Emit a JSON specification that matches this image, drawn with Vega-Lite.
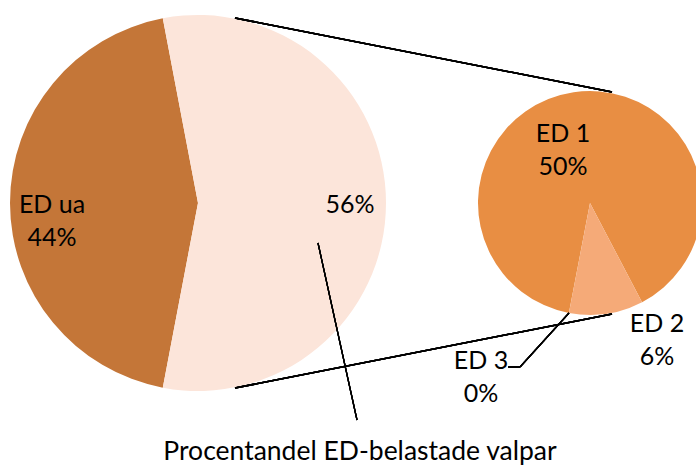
{
  "$schema": "https://vega.github.io/schema/vega-lite/v6.json",
  "width": 696,
  "height": 467,
  "padding": 0,
  "autosize": {"type": "none"},
  "background": "white",
  "config": {"view": {"stroke": null}, "text": {"font": "Lato", "fontSize": 25, "lineBreak": "\n", "lineHeight": 33, "color": "#000000"}},
  "data": {"values": [
    {"paj": "Vänster", "kategori": "ED ua", "andel": 44},
    {"paj": "Vänster", "kategori": "ED-belastade", "andel": 56},
    {"paj": "Höger", "kategori": "ED 1", "andel": 50},
    {"paj": "Höger", "kategori": "ED 2", "andel": 6},
    {"paj": "Höger", "kategori": "ED 3", "andel": 0}
  ]},
  "transform": [
    {"calculate": "datum.kategori === 'ED-belastade' ? datum.andel + '%' : datum.kategori + '\\n' + datum.andel + '%'", "as": "etikett"}
  ],
  "resolve": {"scale": {"theta": "independent"}},
  "layer": [
    {
      "transform": [{"filter": "datum.paj === 'Vänster'"}],
      "mark": {"type": "arc", "radius": 188},
      "encoding": {
        "x": {"datum": 198, "type": "quantitative", "scale": {"domain": [0, 696], "nice": false, "zero": false}, "axis": null},
        "y": {"datum": 203, "type": "quantitative", "scale": {"domain": [0, 467], "nice": false, "zero": false, "reverse": true}, "axis": null},
        "theta": {"field": "andel", "type": "quantitative", "stack": true, "scale": {"range": [-0.1885, 6.0947]}},
        "order": {"field": "andel", "sort": "descending"},
        "color": {"field": "kategori", "type": "nominal", "legend": null,
          "scale": {"domain": ["ED ua", "ED-belastade", "ED 1", "ED 2", "ED 3"], "range": ["#C47638", "#FCE5DA", "#E88E43", "#F5AA78", "#F8CBAD"]}}
      }
    },
    {
      "transform": [{"filter": "datum.paj === 'Höger'"}],
      "mark": {"type": "arc", "radius": 112},
      "encoding": {
        "x": {"datum": 590, "type": "quantitative"},
        "y": {"datum": 203, "type": "quantitative"},
        "theta": {"field": "andel", "type": "quantitative", "stack": true, "scale": {"range": [2.6581, 8.9413]}},
        "order": {"field": "andel", "sort": "ascending"},
        "color": {"field": "kategori", "type": "nominal", "legend": null}
      }
    },
    {
      "mark": {"type": "rule", "color": "#000000", "strokeWidth": 1.5},
      "encoding": {
        "x": {"datum": 235, "type": "quantitative"}, "y": {"datum": 18, "type": "quantitative"},
        "x2": {"datum": 612}, "y2": {"datum": 92}
      }
    },
    {
      "mark": {"type": "rule", "color": "#000000", "strokeWidth": 1.5},
      "encoding": {
        "x": {"datum": 235, "type": "quantitative"}, "y": {"datum": 388, "type": "quantitative"},
        "x2": {"datum": 612}, "y2": {"datum": 314}
      }
    },
    {
      "mark": {"type": "rule", "color": "#000000", "strokeWidth": 1.2},
      "encoding": {
        "x": {"datum": 318, "type": "quantitative"}, "y": {"datum": 243, "type": "quantitative"},
        "x2": {"datum": 357}, "y2": {"datum": 420}
      }
    },
    {
      "mark": {"type": "rule", "color": "#000000", "strokeWidth": 1.2},
      "encoding": {
        "x": {"datum": 569, "type": "quantitative"}, "y": {"datum": 313, "type": "quantitative"},
        "x2": {"datum": 520}, "y2": {"datum": 367}
      }
    },
    {
      "mark": {"type": "rule", "color": "#000000", "strokeWidth": 1.2},
      "encoding": {
        "x": {"datum": 520, "type": "quantitative"}, "y": {"datum": 367, "type": "quantitative"},
        "x2": {"datum": 508}, "y2": {"datum": 367}
      }
    },
    {
      "transform": [{"filter": "datum.kategori === 'ED ua'"}],
      "mark": {"type": "text", "align": "center", "baseline": "middle"},
      "encoding": {"x": {"datum": 52, "type": "quantitative"}, "y": {"datum": 205, "type": "quantitative"}, "text": {"field": "etikett"}}
    },
    {
      "transform": [{"filter": "datum.kategori === 'ED-belastade'"}],
      "mark": {"type": "text", "align": "center", "baseline": "middle"},
      "encoding": {"x": {"datum": 350, "type": "quantitative"}, "y": {"datum": 205, "type": "quantitative"}, "text": {"field": "etikett"}}
    },
    {
      "transform": [{"filter": "datum.kategori === 'ED 1'"}],
      "mark": {"type": "text", "align": "center", "baseline": "middle"},
      "encoding": {"x": {"datum": 563, "type": "quantitative"}, "y": {"datum": 134, "type": "quantitative"}, "text": {"field": "etikett"}}
    },
    {
      "transform": [{"filter": "datum.kategori === 'ED 2'"}],
      "mark": {"type": "text", "align": "center", "baseline": "middle"},
      "encoding": {"x": {"datum": 657, "type": "quantitative"}, "y": {"datum": 324, "type": "quantitative"}, "text": {"field": "etikett"}}
    },
    {
      "transform": [{"filter": "datum.kategori === 'ED 3'"}],
      "mark": {"type": "text", "align": "center", "baseline": "middle"},
      "encoding": {"x": {"datum": 481, "type": "quantitative"}, "y": {"datum": 361, "type": "quantitative"}, "text": {"field": "etikett"}}
    },
    {
      "transform": [{"filter": "datum.kategori === 'ED-belastade'"}],
      "mark": {"type": "text", "align": "center", "baseline": "middle", "fontSize": 26.5},
      "encoding": {"x": {"datum": 360, "type": "quantitative"}, "y": {"datum": 452, "type": "quantitative"}, "text": {"value": "Procentandel ED-belastade valpar"}}
    }
  ]
}
